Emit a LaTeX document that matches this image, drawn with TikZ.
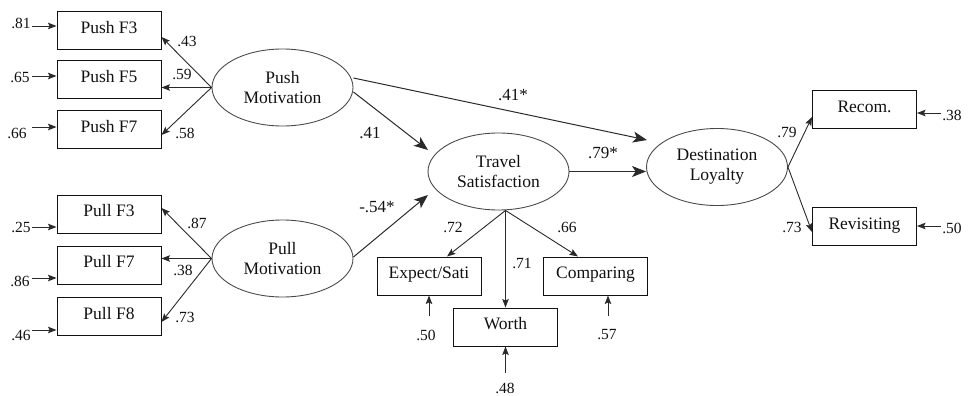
\documentclass[tikz,border=0pt]{standalone}
\usepackage{fontspec}
\setmainfont{Liberation Serif}
\usetikzlibrary{arrows.meta,shapes.geometric}
\definecolor{ink}{HTML}{111111}
\definecolor{lin}{HTML}{2A2A2A}
\begin{document}
\begin{tikzpicture}[x=1pt,y=-1pt,
  box/.style={draw=ink, line width=1pt, minimum width=104pt, minimum height=38pt,
    inner sep=0pt, text height=12pt, text depth=7pt, font=\fontsize{17.5}{19}\selectfont, text=ink},
  lat/.style={draw=lin!85, line width=0.9pt, ellipse, minimum width=141pt, minimum height=77pt,
    inner sep=0pt, align=center, font=\fontsize{17.5}{20}\selectfont, text=ink},
  big/.style={draw=lin, line width=1pt, -{Stealth[length=14pt,width=11pt,inset=3.5pt]}},
  small/.style={draw=lin, line width=0.9pt, -{Stealth[length=8.5pt,width=6.5pt,inset=1.5pt]}},
  lab/.style={font=\fontsize{15.5}{17}\selectfont, text=ink, inner sep=0pt},
  blab/.style={font=\fontsize{17}{19}\selectfont, text=ink, inner sep=0pt}]
\useasboundingbox (0,0) rectangle (969,396);

% observed boxes
\node[box] (p3) at (109,31) {Push F3};
\node[box] (p5) at (109,79.5) {Push F5};
\node[box] (p7) at (109,129.5) {Push F7};
\node[box] (q3) at (109,214) {Pull F3};
\node[box] (q7) at (109,265) {Pull F7};
\node[box] (q8) at (109,316.5) {Pull F8};
\node[box] (exp) at (429,276) {Expect/Sati};
\node[box] (comp) at (595.5,276) {Comparing};
\node[box] (worth) at (505.5,327) {Worth};
\node[box] (rec) at (864.5,109.5) {Recom.};
\node[box] (rev) at (864.5,226.5) {Revisiting};

% latent variables
\node[lat] (pushM) at (282.5,87.5) {Push\\Motivation};
\node[lat] (pullM) at (282.5,258.5) {Pull\\Motivation};
\node[lat] (trav) at (498.5,171.5) {Travel\\Satisfaction};
\node[lat] (dest) at (717,167) {Destination\\Loyalty};

% measurement paths
\draw[small] (pushM.west) -- ([yshift=-6pt]p3.east);
\draw[small] (pushM.west) -- (pushM.west -| p5.east);
\draw[small] (pushM.west) -- ([yshift=-5.5pt]p7.east);
\draw[small] (pullM.west) -- ([yshift=6pt]q3.east);
\draw[small] (pullM.west) -- (pullM.west -| q7.east);
\draw[small] (pullM.west) -- ([yshift=-5.5pt]q8.east);
\coordinate (tb) at ([xshift=7pt]trav.south);
\draw[small] (tb) -- ([xshift=18pt]exp.north);
\draw[small] (tb) -- (tb |- worth.north);
\draw[small] (tb) -- ([xshift=-17.5pt]comp.north);
\draw[small] (dest.east) -- ([yshift=-7.5pt]rec.west);
\draw[small] (dest.east) -- ([yshift=-5.5pt]rev.west);

\node[lab] at (187,41) {.43};
\node[lab] at (182,74) {.59};
\node[lab] at (185,133) {.58};
\node[lab] at (197,223) {.87};
\node[lab] at (183,270) {.38};
\node[lab] at (185,317) {.73};
\node[lab] at (453,227) {.72};
\node[lab] at (522,263) {.71};
\node[lab] at (567,227) {.66};
\node[lab] at (787,132) {.79};
\node[lab] at (792,227) {.73};

% structural paths
\coordinate (t1) at (428,150);
\coordinate (t2) at (428,195);
\coordinate (d1) at (647,140);
\draw[big] ([yshift=-4.5pt]pushM.east) -- (t1);
\draw[big] ([yshift=1.5pt]pullM.east) -- (t2);
\draw[big] ([yshift=9.5pt]pushM.east) -- (d1);
\draw[big] (trav.east) -- (trav.east -| dest.west);
\node[blab] at (370,133) {.41};
\node[blab] at (377,207) {-.54*};
\node[blab] at (513,95) {.41*};
\node[blab] at (603,153) {.79*};

% error terms
\coordinate (e1) at (32,26);   \draw[small] (e1) -- (e1 -| p3.west);
\coordinate (e2) at (32,76);   \draw[small] (e2) -- (e2 -| p5.west);
\coordinate (e3) at (32,127);  \draw[small] (e3) -- (e3 -| p7.west);
\coordinate (e4) at (32,227);  \draw[small] (e4) -- (e4 -| q3.west);
\coordinate (e5) at (32,278);  \draw[small] (e5) -- (e5 -| q7.west);
\coordinate (e6) at (32,330);  \draw[small] (e6) -- (e6 -| q8.west);
\coordinate (e7) at (941,113); \draw[small] (e7) -- (e7 -| rec.east);
\coordinate (e8) at (941,226); \draw[small] (e8) -- (e8 -| rev.east);
\coordinate (e9) at (429,316); \draw[small] (e9) -- (e9 |- exp.south);
\coordinate (e10) at (608,316); \draw[small] (e10) -- (e10 |- comp.south);
\coordinate (e11) at (505.5,373); \draw[small] (e11) -- (e11 |- worth.south);

\node[lab] at (21,23.5) {.81};
\node[lab] at (20,77) {.65};
\node[lab] at (17,133) {.66};
\node[lab] at (21,227) {.25};
\node[lab] at (20,281) {.86};
\node[lab] at (21,335) {.46};
\node[lab] at (952,115) {.38};
\node[lab] at (952,228) {.50};
\node[lab] at (426,335) {.50};
\node[lab] at (607,335) {.57};
\node[lab] at (505,388) {.48};
\end{tikzpicture}
\end{document}
